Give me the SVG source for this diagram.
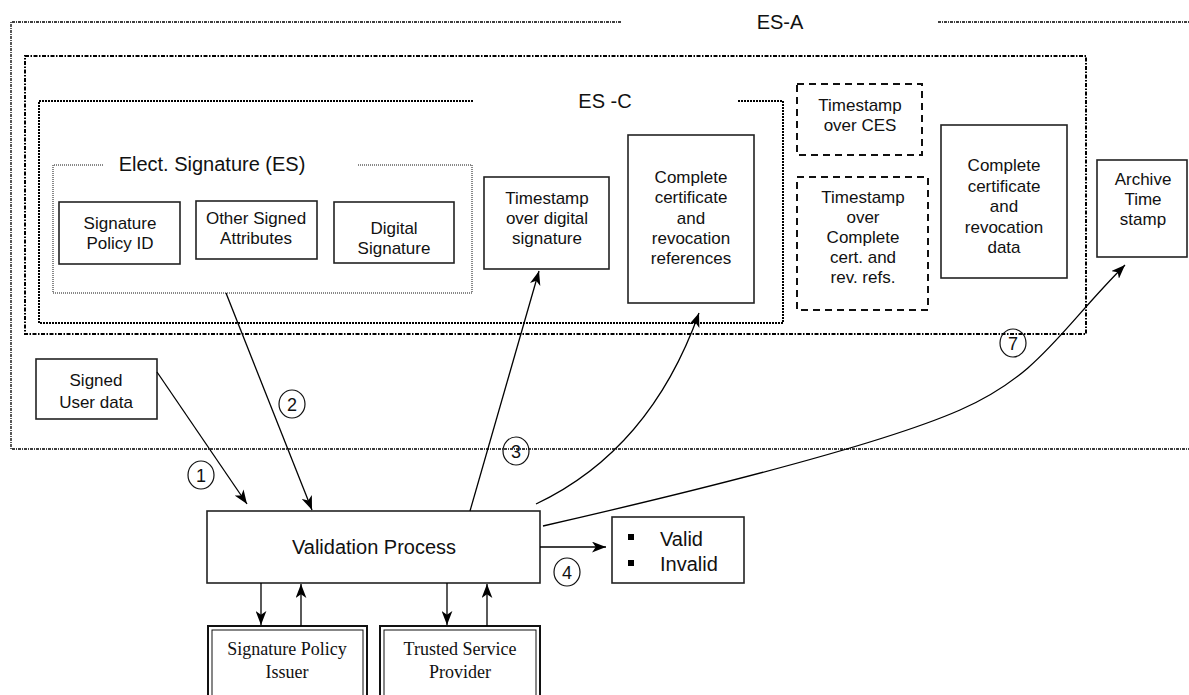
<svg xmlns="http://www.w3.org/2000/svg" width="1189" height="695" viewBox="0 0 1189 695">
<defs>
<marker id="ah" markerUnits="userSpaceOnUse" markerWidth="14" markerHeight="11" refX="13" refY="5" orient="auto" viewBox="0 0 13 10">
<path d="M0,0 L13,5 L0,10 L3.5,5 z" fill="#000"/>
</marker>
<style>
.box{fill:#fff;stroke:#222;stroke-width:1.6}
.dbox{fill:#fff;stroke:#111;stroke-width:2;stroke-dasharray:7,5}
.t{font-family:"Liberation Sans",Arial,sans-serif;font-size:17px;fill:#111;text-anchor:middle}
.tl{font-family:"Liberation Sans",Arial,sans-serif;font-size:20px;fill:#111;text-anchor:middle}
.ts{font-family:"Liberation Serif","Times New Roman",serif;font-size:18px;fill:#111;text-anchor:middle}
.esa{fill:none;stroke:#000;stroke-width:1.3;stroke-dasharray:3,1,1,1}
.mid{fill:none;stroke:#000;stroke-width:2;stroke-dasharray:4,1.5,1.5,1.5}
.esc{fill:none;stroke:#000;stroke-width:2;stroke-dasharray:2,1}
.es{fill:none;stroke:#111;stroke-width:1;stroke-dasharray:1,1}
.ca{fill:none;stroke:#000;stroke-width:1.3;marker-end:url(#ah)}
.num{fill:none;stroke:#111;stroke-width:1.2}
.nt{font-family:"Liberation Sans",Arial,sans-serif;font-size:18px;fill:#111;text-anchor:middle}
</style>
</defs>
<rect width="1189" height="695" fill="#fff"/>

<g id="es-a">
<path class="esa" d="M621,22 H11 V449 H1189 M938,22 H1189"/>
<text class="tl" x="780" y="29">ES-A</text>
</g>
<g id="middle-container">
<rect class="mid" x="25" y="56" width="1061" height="278"/>
</g>
<g id="es-c">
<path class="esc" d="M473,101 H39 V323 H783 V101 H737"/>
<text class="tl" x="605" y="108">ES -C</text>
</g>
<g id="es">
<path class="es" d="M103,165 H53 V293 H472 V165 H358"/>
<text class="tl" x="212" y="171">Elect. Signature (ES)</text>
</g>

<g id="sig-policy-id">
<rect class="box" x="59" y="202" width="121" height="62"/>
<text class="t" x="120" y="229">Signature<tspan x="120" dy="20">Policy ID</tspan></text>
</g>
<g id="other-signed-attributes">
<rect class="box" x="196" y="201" width="121" height="58"/>
<text class="t" x="256" y="224">Other Signed<tspan x="256" dy="20">Attributes</tspan></text>
</g>
<g id="digital-signature">
<rect class="box" x="334" y="202" width="120" height="61"/>
<text class="t" x="394" y="234">Digital<tspan x="394" dy="20">Signature</tspan></text>
</g>
<g id="ts-digital">
<rect class="box" x="484" y="177" width="125" height="92"/>
<text class="t" x="547" y="204">Timestamp<tspan x="547" dy="20">over digital</tspan><tspan x="547" dy="20">signature</tspan></text>
</g>
<g id="complete-refs">
<rect class="box" x="628" y="135" width="126" height="168"/>
<text class="t" x="691" y="183">Complete<tspan x="691" dy="20.3">certificate</tspan><tspan x="691" dy="20.3">and</tspan><tspan x="691" dy="20.3">revocation</tspan><tspan x="691" dy="20.3">references</tspan></text>
</g>
<g id="ts-ces">
<rect class="dbox" x="797" y="84" width="125" height="71"/>
<text class="t" x="860" y="111">Timestamp<tspan x="860" dy="19.5">over CES</tspan></text>
</g>
<g id="ts-complete">
<rect class="dbox" x="797" y="177" width="131" height="133"/>
<text class="t" x="863" y="203">Timestamp<tspan x="863" dy="20">over</tspan><tspan x="863" dy="20">Complete</tspan><tspan x="863" dy="20">cert. and</tspan><tspan x="863" dy="20">rev. refs.</tspan></text>
</g>
<g id="complete-data">
<rect class="box" x="941" y="125" width="126" height="153"/>
<text class="t" x="1004" y="171">Complete<tspan x="1004" dy="20.5">certificate</tspan><tspan x="1004" dy="20.5">and</tspan><tspan x="1004" dy="20.5">revocation</tspan><tspan x="1004" dy="20.5">data</tspan></text>
</g>
<g id="archive">
<rect class="box" x="1097" y="160" width="90" height="97"/>
<text class="t" x="1143" y="185">Archive<tspan x="1143" dy="20">Time</tspan><tspan x="1143" dy="20">stamp</tspan></text>
</g>
<g id="signed-user-data">
<rect class="box" x="36" y="359" width="121" height="60"/>
<text class="t" x="96" y="386">Signed<tspan x="96" dy="22">User data</tspan></text>
</g>
<g id="validation">
<rect class="box" x="207" y="511" width="333" height="72"/>
<text class="tl" x="374" y="554">Validation Process</text>
</g>
<g id="result">
<rect class="box" x="612" y="517" width="132" height="66"/>
<rect x="628" y="534" width="6" height="6" fill="#000"/>
<rect x="628" y="560" width="6" height="6" fill="#000"/>
<text class="tl" x="660" y="546" style="text-anchor:start">Valid</text>
<text class="tl" x="660" y="571" style="text-anchor:start">Invalid</text>
</g>
<g id="sig-policy-issuer">
<rect x="208" y="626" width="159" height="90" fill="#fff" stroke="#111" stroke-width="2"/>
<rect x="212" y="630" width="151" height="82" fill="none" stroke="#111" stroke-width="1"/>
<text class="ts" x="287" y="655">Signature Policy<tspan x="287" dy="23">Issuer</tspan></text>
</g>
<g id="tsp">
<rect x="380" y="626" width="160" height="90" fill="#fff" stroke="#111" stroke-width="2"/>
<rect x="384" y="630" width="152" height="82" fill="none" stroke="#111" stroke-width="1"/>
<text class="ts" x="460" y="655">Trusted Service<tspan x="460" dy="23">Provider</tspan></text>
</g>

<g id="connectors">
<path class="ca" d="M157,372 L247,504"/>
<path class="ca" d="M226,293 L312,510"/>
<path class="ca" d="M470,511 L539,271"/>
<path class="ca" d="M536,504 Q650,450 699,313"/>
<path class="ca" d="M543,526 C700,490 880,445 960,410 S1060,330 1125,265"/>
<path class="ca" d="M540,547 L606,547"/>
<path class="ca" d="M261,583 L261,625"/>
<path class="ca" d="M301,626 L301,584"/>
<path class="ca" d="M447,583 L447,625"/>
<path class="ca" d="M487,626 L487,584"/>
</g>

<g id="labels">
<ellipse class="num" cx="201" cy="475" rx="13" ry="14"/>
<text class="nt" x="201" y="481.5">1</text>
<ellipse class="num" cx="292" cy="404" rx="13" ry="14"/>
<text class="nt" x="292" y="410.5">2</text>
<ellipse class="num" cx="516" cy="451" rx="13" ry="14"/>
<text class="nt" x="516" y="457.5">3</text>
<ellipse class="num" cx="567" cy="572" rx="13" ry="14"/>
<text class="nt" x="567" y="578.5">4</text>
<ellipse class="num" cx="1013" cy="343" rx="13" ry="14"/>
<text class="nt" x="1013" y="349.5">7</text>
</g>
</svg>
